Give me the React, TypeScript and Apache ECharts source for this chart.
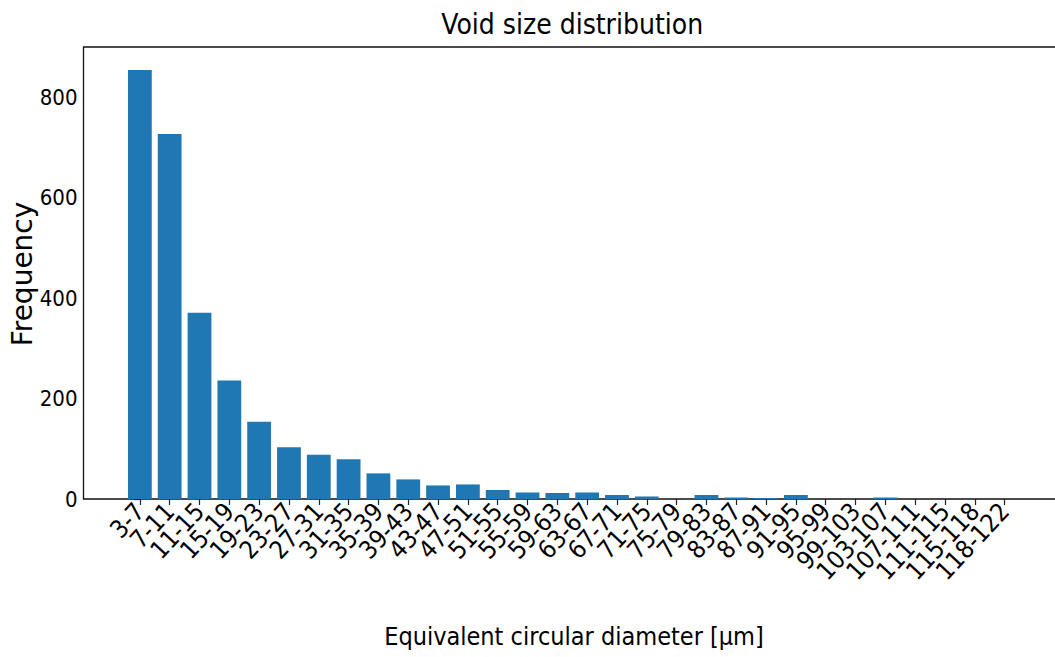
import React, { useEffect, useRef } from "react";
import * as echarts from "echarts";

// Histogram bins of equivalent circular diameter (µm)
const binLabels: string[] = [
  "3-7", "7-11", "11-15", "15-19", "19-23", "23-27", "27-31", "31-35", "35-39", "39-43",
  "43-47", "47-51", "51-55", "55-59", "59-63", "63-67", "67-71", "71-75", "75-79", "79-83",
  "83-87", "87-91", "91-95", "95-99", "99-103", "103-107", "107-111", "111-115", "115-118", "118-122",
];

// Void counts per bin
const frequencies: number[] = [
  854, 727, 371, 236, 154, 103, 88, 79, 51, 39,
  27, 29, 18, 13, 12, 13, 8, 5, 0, 8,
  3, 2, 8, 0, 0, 3, 0, 0, 0, 0,
];

const yTicks: number[] = [0, 200, 400, 600, 800];

const TITLE = "Void size distribution";
const X_NAME = "Equivalent circular diameter [µm]";
const Y_NAME = "Frequency";

const FONT = "'DejaVu Sans Condensed', 'DejaVu Sans', sans-serif";

// The canvas is a little wider than the visible area, so the plot frame's
// right edge falls just outside the view.
const CANVAS_W = 1075;
const VIEW_W = 1055;
const VIEW_H = 657;

export default function App() {
  const ref = useRef<HTMLDivElement>(null);

  useEffect(() => {
    if (!ref.current) return;
    const chart = echarts.init(ref.current, undefined, { renderer: "svg" });

    const binIndex = binLabels.map((_, i) => i);
    // Blank sentinel labels at both ends keep ECharts' min/max overlap check
    // from dropping any of the real bin labels.
    const labelValues = [-1.5, ...binIndex, binLabels.length + 0.5];
    const data = frequencies.map((v, i) => [i, v]);

    const gridLeft = 83.5;
    const gridRightEdge = 1061;
    const gridTop = 47;
    const gridBottom = 158;
    const plotCenterX = (gridLeft + gridRightEdge) / 2;

    chart.setOption({
      animation: false,
      backgroundColor: "#ffffff",
      grid: {
        left: gridLeft,
        top: gridTop,
        bottom: gridBottom,
        right: CANVAS_W - gridRightEdge,
        show: true,
        borderColor: "#111",
        borderWidth: 1.3,
        containLabel: false,
      },
      xAxis: {
        type: "value",
        min: -1.89,
        max: 30.89,
        axisLine: { show: false },
        splitLine: { show: false },
        axisTick: {
          show: true,
          customValues: binIndex,
          length: 6,
          lineStyle: { color: "#222", width: 1.2 },
        },
        axisLabel: {
          show: true,
          customValues: labelValues,
          rotate: 47,
          margin: 8,
          fontSize: 25,
          fontFamily: FONT,
          color: "#000",
          hideOverlap: false,
          formatter: (v: number) => {
            const i = Math.round(v);
            return Math.abs(v - i) < 1e-6 ? binLabels[i] ?? "" : "";
          },
        },
      },
      yAxis: {
        type: "value",
        min: 0,
        max: 900,
        axisLine: { show: false },
        splitLine: { show: false },
        axisTick: {
          show: true,
          customValues: yTicks,
          length: 6,
          lineStyle: { color: "#222", width: 1.2 },
        },
        axisLabel: {
          show: true,
          customValues: yTicks,
          margin: 6,
          fontSize: 22,
          fontFamily: FONT,
          color: "#000",
          showMinLabel: true,
          showMaxLabel: true,
        },
      },
      series: [
        {
          type: "bar",
          data,
          barWidth: 23.8,
          itemStyle: { color: "#1f77b4" },
        },
      ],
      graphic: [
        {
          type: "text",
          x: plotCenterX,
          y: 24,
          style: {
            text: TITLE,
            fontSize: 28,
            fontFamily: FONT,
            fill: "#000",
            textAlign: "center",
            textVerticalAlign: "middle",
          },
        },
        {
          type: "text",
          x: 574,
          y: 636,
          style: {
            text: X_NAME,
            fontSize: 25,
            fontFamily: FONT,
            fill: "#000",
            textAlign: "center",
            textVerticalAlign: "middle",
          },
        },
        {
          type: "text",
          x: 22,
          y: 274,
          rotation: Math.PI / 2,
          style: {
            text: Y_NAME,
            fontSize: 28,
            fontFamily: "'DejaVu Sans', sans-serif",
            fill: "#000",
            textAlign: "center",
            textVerticalAlign: "middle",
          },
        },
      ],
    });

    return () => chart.dispose();
  }, []);

  return (
    <div
      style={{
        position: "fixed",
        left: 0,
        top: 0,
        width: VIEW_W,
        height: VIEW_H,
        overflow: "hidden",
        background: "#fff",
      }}
    >
      <div ref={ref} style={{ width: CANVAS_W, height: VIEW_H }} />
    </div>
  );
}
